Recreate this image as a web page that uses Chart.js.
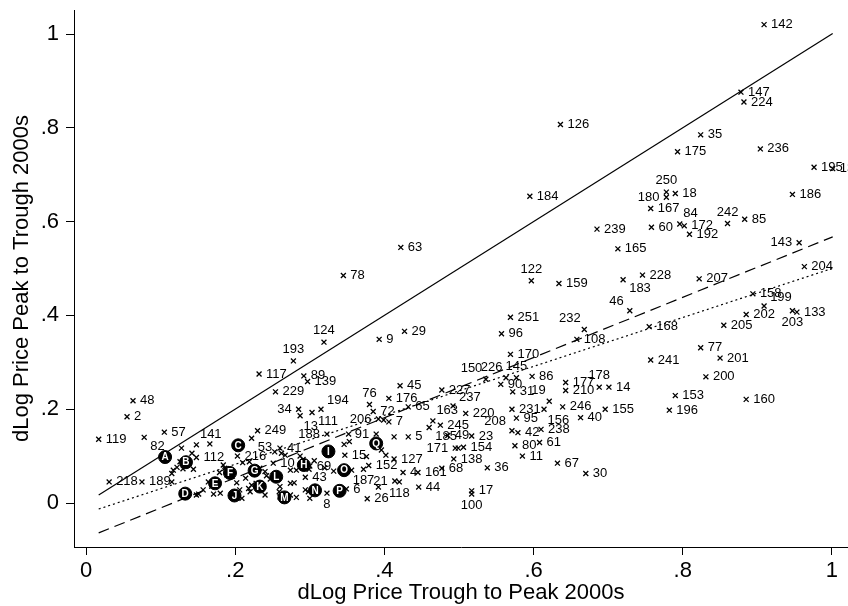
<!DOCTYPE html>
<html>
<head>
<meta charset="utf-8">
<script src="https://cdn.jsdelivr.net/npm/chart.js@4.4.1/dist/chart.umd.min.js"></script>
<style>
  html, body { margin: 0; padding: 0; background: #fff; }
  #wrap { width: 848px; height: 606px; }
</style>
</head>
<body>
<div id="wrap"><canvas id="c" width="848" height="606"></canvas></div>
<script>
// ---------- DATA ----------
const ptLabels = ["142","147","224","126","35","236","175","195","134","186","184","250","180","18","167","60","84","172","192","242","85","239","165","143","204","228","183","159","207","122","63","78","46","158","199","202","133","203","205","168","77","201","241","200","153","160","196","251","96","232","108","170","150","226","145","86","90","31","227","177","210","178","14","19","231","246","156","155","40","95","220","237","208","42","238","80","61","11","67","30","36","17","100","23","49","185","171","154","138","68","9","29","124","193","117","89","139","229","45","176","76","72","65","34","13","111","194","206","7","163","245","249","5","188","91","15","127","152","187","21","118","44","4","161","26","6","8","69","43","10","41","53","216","112","141","57","82","119","2","48","218","189"];
const ptX = [0.909,0.878,0.882,0.636,0.824,0.904,0.793,0.976,1.001,0.947,0.595,0.778,0.778,0.790,0.757,0.758,0.796,0.802,0.809,0.860,0.883,0.685,0.713,0.956,0.963,0.746,0.720,0.634,0.822,0.597,0.422,0.345,0.729,0.894,0.909,0.885,0.953,0.947,0.855,0.755,0.824,0.850,0.757,0.831,0.790,0.885,0.782,0.569,0.557,0.668,0.658,0.569,0.536,0.563,0.577,0.598,0.556,0.572,0.477,0.643,0.643,0.688,0.701,0.621,0.571,0.639,0.614,0.696,0.663,0.577,0.509,0.492,0.571,0.579,0.610,0.575,0.608,0.585,0.632,0.670,0.538,0.517,0.517,0.517,0.485,0.460,0.495,0.506,0.493,0.477,0.393,0.427,0.319,0.278,0.232,0.292,0.297,0.254,0.421,0.406,0.380,0.385,0.432,0.285,0.287,0.303,0.315,0.392,0.406,0.465,0.475,0.230,0.432,0.323,0.389,0.347,0.413,0.379,0.372,0.414,0.420,0.446,0.425,0.445,0.377,0.349,0.323,0.300,0.294,0.251,0.260,0.222,0.203,0.148,0.148,0.105,0.078,0.017,0.055,0.063,0.031,0.075];
const ptY = [1.020,0.876,0.855,0.807,0.785,0.755,0.749,0.716,0.713,0.658,0.654,0.663,0.652,0.660,0.628,0.588,0.595,0.591,0.573,0.596,0.605,0.584,0.542,0.555,0.504,0.486,0.476,0.468,0.478,0.474,0.545,0.485,0.410,0.446,0.420,0.402,0.407,0.410,0.379,0.376,0.331,0.309,0.305,0.269,0.229,0.221,0.198,0.396,0.361,0.370,0.349,0.317,0.264,0.267,0.267,0.270,0.253,0.237,0.241,0.257,0.240,0.247,0.247,0.217,0.200,0.205,0.200,0.200,0.182,0.181,0.191,0.207,0.154,0.150,0.157,0.122,0.129,0.100,0.085,0.063,0.075,0.026,0.019,0.143,0.144,0.161,0.117,0.119,0.094,0.074,0.349,0.366,0.343,0.303,0.275,0.271,0.259,0.237,0.250,0.223,0.210,0.195,0.205,0.200,0.186,0.193,0.200,0.179,0.173,0.175,0.166,0.154,0.141,0.147,0.147,0.102,0.094,0.080,0.072,0.047,0.045,0.034,0.065,0.065,0.009,0.030,0.021,0.079,0.055,0.085,0.117,0.138,0.100,0.097,0.124,0.151,0.140,0.136,0.184,0.218,0.045,0.045];

const letterLabels = ["A","B","C","D","E","F","G","H","I","J","K","L","M","N","O","P","Q"];
const letterX = [0.106,0.134,0.204,0.133,0.173,0.193,0.226,0.292,0.325,0.199,0.233,0.255,0.266,0.307,0.346,0.340,0.389];
const letterY = [0.098,0.087,0.123,0.020,0.042,0.064,0.069,0.081,0.110,0.016,0.035,0.056,0.012,0.027,0.070,0.026,0.127];

// markers whose labels are hidden under the crowd
const extraX = [0.117,0.122,0.115,0.128,0.142,0.144,0.166,0.115,0.157,0.148,0.173,0.164,0.180,0.184,0.179,0.186,0.202,0.206,0.214,0.218,0.220,0.210,0.219,0.233,0.240,0.242,0.228,0.238,0.240,0.247,0.260,0.274,0.279,0.260,0.274,0.282,0.294,0.298,0.300,0.253,0.262,0.267,0.274,0.282,0.287,0.291,0.306,0.126,0.151,0.171,0.189,0.209,0.222,0.259,0.299,0.352,0.353,0.376,0.356,0.332,0.396,0.402,0.392,0.320,0.399,0.413,0.499,0.346,0.130];
const extraY = [0.070,0.076,0.063,0.117,0.106,0.072,0.126,0.045,0.028,0.017,0.049,0.045,0.021,0.081,0.065,0.074,0.043,0.028,0.053,0.031,0.024,0.086,0.088,0.074,0.067,0.058,0.042,0.036,0.017,0.051,0.035,0.042,0.043,0.013,0.017,0.012,0.028,0.024,0.010,0.109,0.106,0.102,0.070,0.070,0.100,0.093,0.090,0.088,0.019,0.019,0.060,0.010,0.038,0.024,0.072,0.147,0.131,0.099,0.070,0.068,0.113,0.102,0.034,0.075,0.177,0.141,0.117,0.125,0.073];

// fitted lines: 45-degree line, dashed fit, dotted fit
const fitSlopes = [1.0, 0.6416, 0.5216];
const fitIntercepts = [0.0, -0.0747, -0.0217];

const xTickVals = [0, 0.2, 0.4, 0.6, 0.8, 1];
const xTickText = ["0", ".2", ".4", ".6", ".8", "1"];
const yTickVals = [0, 0.2, 0.4, 0.6, 0.8, 1];
const yTickText = ["0", ".2", ".4", ".6", ".8", "1"];

const xTitle = "dLog Price Trough to Peak 2000s";
const yTitle = "dLog Price Peak to Trough 2000s";

// ---------- STYLE (label clock positions; default 3 o'clock) ----------
const labelClock = {"250":12,"180":9,"84":1,"242":12,"143":9,"183":4,"122":12,"46":10,"199":2,"203":6,
  "232":11,"150":11,"226":11,"145":12,"178":12,"19":11,"156":5,"237":2,"208":10,"100":6,"185":4,"171":9,
  "124":12,"193":12,"76":12,"34":9,"13":5,"111":4,"194":2,"206":9,"163":1,"188":9,"91":9,"187":6,"21":9,
  "118":6,"8":6,"53":4,"141":1,"82":4};

const FONT = '"Liberation Sans", Arial, Helvetica, sans-serif';

// ---------- BUILD ----------
const allX = ptX.concat(letterX, extraX);
const xLo = Math.min(...allX), xHi = Math.max(...allX);
const numPts = ptX.map((x, i) => ({x: x, y: ptY[i]})).concat(extraX.map((x, i) => ({x: x, y: extraY[i]})));
const letPts = letterX.map((x, i) => ({x: x, y: letterY[i]}));
const fitLines = fitSlopes.map((b, k) => [{x: xLo, y: fitIntercepts[k] + b * xLo}, {x: xHi, y: fitIntercepts[k] + b * xHi}]);
const dashes = [[], [11, 6], [2, 3]];

const labelPlugin = {
  id: 'ptLabels',
  afterDatasetsDraw(chart) {
    const ctx = chart.ctx, xs = chart.scales.x, ys = chart.scales.y;
    ctx.save();
    ctx.fillStyle = '#000';
    ctx.font = '13px ' + FONT;
    ptLabels.forEach((lab, i) => {
      const px = xs.getPixelForValue(ptX[i]), py = ys.getPixelForValue(ptY[i]);
      const pos = labelClock[lab] || 3;
      const th = (90 - 30 * pos) * Math.PI / 180;
      const dx = Math.cos(th) * 7, dy = -Math.sin(th) * 5;
      ctx.textAlign = dx > 1 ? 'left' : (dx < -1 ? 'right' : 'center');
      ctx.textBaseline = dy < -1 ? 'bottom' : (dy > 1 ? 'top' : 'middle');
      ctx.fillText(lab, px + dx, py + dy);
    });
    ctx.fillStyle = '#fff';
    ctx.font = 'bold 10px ' + FONT;
    ctx.textAlign = 'center';
    ctx.textBaseline = 'middle';
    letterLabels.forEach((lab, i) => {
      const px = xs.getPixelForValue(letterX[i]), py = ys.getPixelForValue(letterY[i]);
      ctx.fillText(lab, px, py + 0.5);
    });
    ctx.restore();
  }
};

const datasets = [];
fitLines.forEach((pts, k) => datasets.push({
  type: 'line', data: pts, borderColor: '#000', borderWidth: 1.2, borderDash: dashes[k],
  pointRadius: 0, fill: false, order: 5, clip: false
}));
datasets.push({
  type: 'scatter', data: numPts, pointStyle: 'crossRot', pointRadius: 3.5,
  borderColor: '#000', backgroundColor: '#000', borderWidth: 1.3, order: 2
});
datasets.push({
  type: 'scatter', data: letPts, pointStyle: 'circle', pointRadius: 6.5,
  borderColor: '#000', backgroundColor: '#000', borderWidth: 1, order: 1
});

function axis(vals, texts, min, max, titleText, isX) {
  return {
    type: 'linear', position: isX ? 'bottom' : 'left', min: min, max: max,
    afterBuildTicks: s => { s.ticks = vals.map(v => ({value: v})); },
    afterFit: s => {
      if (isX) s.height = 59; else s.width = 74;
      s.paddingTop = 0; s.paddingBottom = 0; s.paddingLeft = 0; s.paddingRight = 0;
    },
    ticks: {
      callback: (v) => { const j = vals.findIndex(t => Math.abs(t - v) < 1e-9); return j >= 0 ? texts[j] : ''; },
      font: {size: 22, family: FONT}, color: '#000', padding: isX ? 3 : 7,
      maxRotation: 0, minRotation: 0, autoSkip: false
    },
    grid: {display: true, drawOnChartArea: false, drawTicks: true, tickLength: 8, color: '#000', lineWidth: 1},
    border: {display: true, color: '#000', width: 1},
    title: {display: true, text: titleText, font: {size: 22, family: FONT}, color: '#000',
            padding: isX ? {top: 0, bottom: 0} : {top: 9, bottom: 0}}
  };
}

new Chart(document.getElementById('c'), {
  data: {datasets: datasets},
  plugins: [labelPlugin],
  options: {
    responsive: false, animation: false, devicePixelRatio: 1,
    layout: {padding: {top: 10, left: 0, right: 0, bottom: 0}, autoPadding: false},
    plugins: {legend: {display: false}, tooltip: {enabled: false}},
    scales: {
      x: axis(xTickVals, xTickText, -0.0161, 1.0215, xTitle, true),
      y: axis(yTickVals, yTickText, -0.0938, 1.0512, yTitle, false)
    }
  }
});
</script>
</body>
</html>
